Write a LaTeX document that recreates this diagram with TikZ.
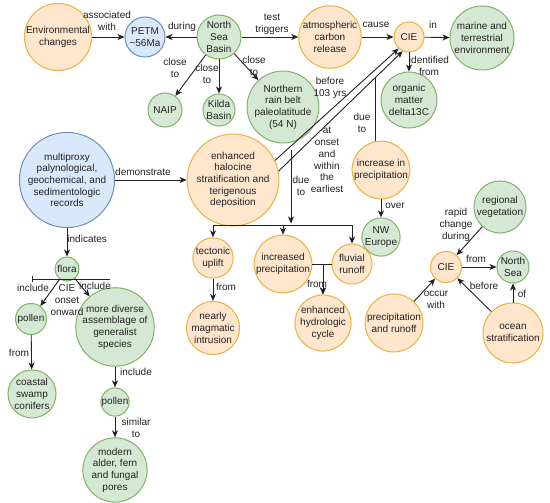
\documentclass[tikz,border=0pt]{standalone}
\usepackage{fontspec}
\setmainfont{Liberation Sans}
\usetikzlibrary{arrows.meta,calc}
\definecolor{ofill}{HTML}{FFE6CC}
\definecolor{ostroke}{HTML}{E9B23E}
\definecolor{gfill}{HTML}{D5E8D4}
\definecolor{gstroke}{HTML}{82B366}
\definecolor{bfill}{HTML}{DAE8FC}
\definecolor{bstroke}{HTML}{6C8EBF}
\definecolor{ink}{HTML}{222222}
\tikzset{
 cnode/.style={circle, inner sep=0pt, line width=1pt, align=center, font=\fontsize{10}{11.7}\selectfont, text=ink},
 onode/.style={cnode, draw=ostroke, fill=ofill, minimum size=#1},
 gnode/.style={cnode, draw=gstroke, fill=gfill, minimum size=#1},
 bnode/.style={cnode, draw=bstroke, fill=bfill, minimum size=#1},
 arr/.style={draw=ink, line width=0.9pt, -{Stealth[length=7pt,width=6pt,inset=2pt]}},
 ln/.style={draw=ink, line width=0.9pt},
 lbl/.style={align=center, font=\fontsize{10}{11.7}\selectfont, text=ink, inner sep=0pt},
}
\begin{document}
\begin{tikzpicture}[x=1pt,y=-1pt]
\fill[white] (0,0) rectangle (550,503);
\useasboundingbox (0,0) rectangle (550,503);

\node[onode=64] (env) at (58,37) {Environmental\\changes};
\node[bnode=40] (petm) at (145,37) {PETM\\\textasciitilde56Ma};
\node[gnode=44] (nsb) at (219,37) {North\\Sea\\Basin};
\node[gnode=34] (naip) at (165,110) {NAIP};
\node[gnode=32] (kilda) at (219,110) {Kilda\\Basin};
\node[gnode=58] (nrb) at (283,107) {Northern\\rain belt\\paleolatitude\\(54 N)};
\node[onode=60] (acr) at (330,37) {atmospheric\\carbon\\release};
\node[onode=30] (cie) at (409,37) {CIE};
\node[gnode=64] (mte) at (482,38) {marine and\\terrestrial\\environment};
\node[gnode=56] (om) at (409,100) {organic\\matter\\delta13C};
\node[bnode=82] (mp) at (67,180) {multiproxy\\palynological,\\geochemical, and\\sedimentologic\\records};
\node[onode=80] (hal) at (233,180) {enhanced\\halocine\\stratification and\\terigenous\\deposition};
\node[onode=56] (incp) at (381,170) {increase in\\precipitation};
\node[gnode=37] (nwe) at (381,237) {NW\\Europe};
\node[onode=40] (tec) at (213,258) {tectonic\\uplift};
\node[onode=56] (ipr) at (283,264) {increased\\precipitation};
\node[onode=40] (flu) at (352,264) {fluvial\\runoff};
\node[onode=49] (nmi) at (213,328) {nearly\\magmatic\\intrusion};
\node[onode=49] (hyd) at (323,323) {enhanced\\hydrologic\\cycle};
\node[onode=58] (prr) at (394,323) {precipitation\\and runoff};
\node[gnode=52] (veg) at (500,207) {regional\\vegetation};
\node[onode=31] (cie2) at (446,267) {CIE};
\node[gnode=32] (ns) at (513,267) {North\\Sea};
\node[onode=60] (ocs) at (513,333) {ocean\\stratification};
\node[gnode=24] (flora) at (67,269) {flora};
\node[gnode=31] (pol1) at (31,319) {pollen};
\node[gnode=74] (div) at (115,327) {more diverse\\assemblage of\\generalist\\species};
\node[gnode=48] (cst) at (32,394) {coastal\\swamp\\conifers};
\node[gnode=28] (pol2) at (115,402) {pollen};
\node[gnode=56] (mod) at (115,470) {modern\\alder, fern\\and fungal\\pores};

% top row
\draw[arr] (env) -- (petm) node[lbl] (l1) at (107,21) {associated\\with};
\draw[arr] (nsb) -- (petm) node[lbl] (l2) at (182,27) {during};
\draw[arr] (nsb) -- (acr) node[lbl] (l3) at (272,24) {test\\triggers};
\draw[arr] (acr) -- (cie) node[lbl] (l4) at (376,25) {cause};
\draw[arr] (cie) -- (mte) node[lbl] (l5) at (433,25) {in};
\draw[arr] (cie) -- (om) node[lbl] (l6) at (429,66) {identified\\from};
\draw[arr] (nsb) -- (naip) node[lbl] (l7) at (175,68) {close\\to};
\draw[arr] (nsb) -- (kilda) node[lbl] (l8) at (207,74) {close\\to};
\draw[arr] (nsb) -- (nrb) node[lbl] (l9) at (254,66) {close\\to};

% halocine to CIE
\coordinate (h1) at (hal.25);
\coordinate (c1) at (cie.228);
\coordinate (h2) at (hal.11);
\coordinate (c2) at (cie.246);
\draw[arr] (h1) -- (c1) node[lbl] (l10) at (330,88) {before\\103 yrs};
\draw[arr] (h2) -- (c2) node[lbl] (l11) at (327,160) {at\\onset\\and\\within\\the\\earliest};
\coordinate (j1) at (intersection of h2--c2 and 375,0--375,200);
\draw[ln] (incp.north -| j1) -- (j1) node[lbl] (l12) at (362,123) {due\\to};
\coordinate (j2) at (291,150);
\coordinate (sp) at (291,225);
\draw[arr, shorten >=1.5pt] (j2) -- (sp) node[lbl] (l13) at (301,186) {due\\to};
\draw[arr] (sp) -| (tec);
\draw[arr] (sp) -| (ipr);
\draw[arr] (sp) -| (flu);
\draw[arr] (tec) -- (nmi) node[lbl] (l14) at (226,287) {from};
\draw[arr] (ipr) -| (hyd) node[lbl] (l15) at (317,284) {from};
\draw[arr] (flu) -| (hyd);
\draw[arr] (incp) -- (nwe) node[lbl] (l16) at (395,206) {over};

% left part
\draw[arr] (mp) -- (hal) node[lbl] (l17) at (143,172) {demonstrate};
\draw[arr] (mp) -- (flora) node[lbl, anchor=west] (l18) at (67,239) {indicates};
\coordinate (ft1) at (32,279);
\coordinate (ft2) at (110,279);
\draw[ln] (ft1) -- (ft2);
\draw[ln] ([yshift=3pt]ft1) -- ([yshift=-3pt]ft1);
\draw[arr] (flora) -- (pol1) node[lbl] (l19) at (33,288) {include} node[lbl] (l20) at (67,300) {CIE\\onset\\onward};
\draw[arr] (flora) -- (div) node[lbl] (l21) at (95,286) {include};
\draw[arr] (pol1) -- (cst) node[lbl] (l22) at (19,353) {from};
\draw[arr] (div) -- (pol2) node[lbl] (l23) at (136,372) {include};
\draw[arr] (pol2) -- (mod) node[lbl] (l24) at (136,428) {similar\\to};

% right cluster
\draw[arr] (veg) -- (cie2) node[lbl] (l25) at (456,225) {rapid\\change\\during};
\draw[arr] (cie2) -- (ns) node[lbl] (l26) at (476,259) {from};
\draw[arr] (ocs) -- (cie2) node[lbl] (l27) at (484,286) {before};
\draw[arr] (ocs) -- (ns) node[lbl] (l28) at (522,294) {of};
\draw[arr] (prr) -- (cie2) node[lbl] (l29) at (436,300) {occur\\with};
\end{tikzpicture}
\end{document}
